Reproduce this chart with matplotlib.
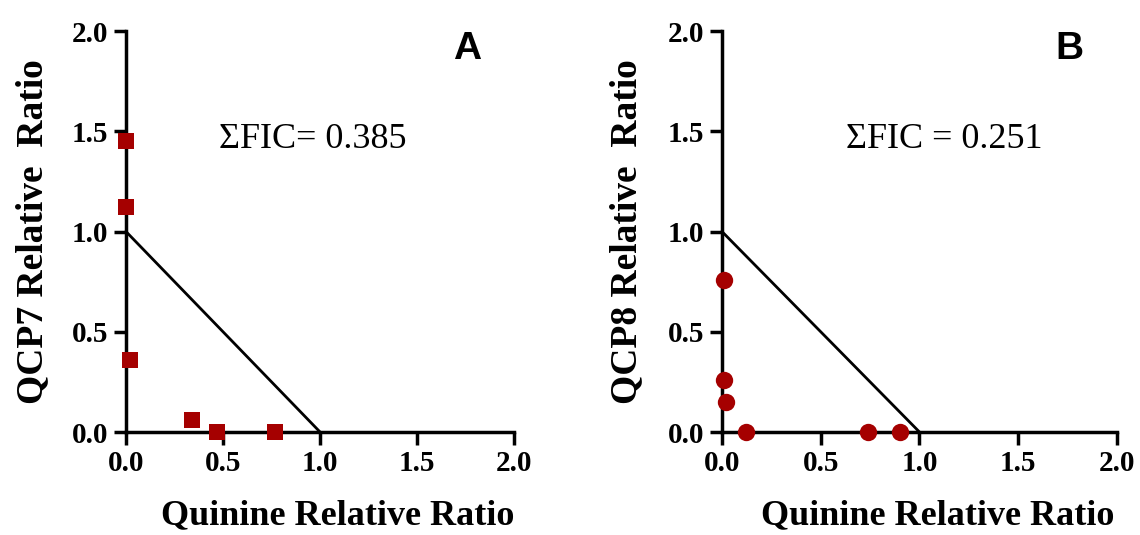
import matplotlib
matplotlib.use('Agg')
import matplotlib.pyplot as plt

# Panel A: QCP7 + quinine
a_x = [0.0, 0.0, 0.02, 0.34, 0.47, 0.77]
a_y = [1.45, 1.12, 0.36, 0.06, 0.0, 0.0]
# Panel B: QCP8 + quinine
b_x = [0.01, 0.01, 0.02, 0.12, 0.74, 0.90]
b_y = [0.76, 0.26, 0.15, 0.0, 0.0, 0.0]

additivity_x = [0.0, 1.0]
additivity_y = [1.0, 0.0]

ticks = [0.0, 0.5, 1.0, 1.5, 2.0]
tick_labels = ['0.0', '0.5', '1.0', '1.5', '2.0']

RED = '#a50000'
SERIF = 'Liberation Serif'

fig = plt.figure(figsize=(11.4, 5.35), dpi=100)
ax_a = fig.add_axes([0.1105, 0.1925, 0.3405, 0.7495])
ax_b = fig.add_axes([0.6333, 0.1925, 0.3465, 0.7495])

panels = [
    (ax_a, a_x, a_y, 's', 11, 'QCP7 Relative  Ratio', '\u03a3FIC= 0.385', 0.48, 'A'),
    (ax_b, b_x, b_y, 'o', 12.5, 'QCP8 Relative  Ratio', '\u03a3FIC = 0.251', 0.562, 'B'),
]

for ax, xs, ys, mk, ms, ylab, fic, fic_x, letter in panels:
    ax.plot(additivity_x, additivity_y, color='black', linewidth=2, clip_on=False)
    ax.plot(xs, ys, linestyle='none', marker=mk, markersize=ms, color=RED,
            markeredgewidth=0, clip_on=False, zorder=5)
    ax.set_xlim(0, 2.0)
    ax.set_ylim(0, 2.0)
    for s in ['top', 'right']:
        ax.spines[s].set_visible(False)
    for s in ['left', 'bottom']:
        ax.spines[s].set_linewidth(2.5)
    ax.set_xticks(ticks)
    ax.set_yticks(ticks)
    ax.set_xticklabels(tick_labels, fontfamily=SERIF, fontweight='bold', fontsize=21)
    ax.set_yticklabels(tick_labels, fontfamily=SERIF, fontweight='bold', fontsize=21)
    ax.tick_params(direction='out', length=9, width=2.5, pad=4)
    ax.set_xlabel('Quinine Relative Ratio', fontfamily=SERIF, fontweight='bold', fontsize=26)
    ax.xaxis.set_label_coords(0.546, -0.168)
    ax.set_ylabel(ylab, fontfamily=SERIF, fontweight='bold', fontsize=27)
    ax.yaxis.set_label_coords(-0.196, 0.5)
    ax.text(fic_x, 0.73, fic, transform=ax.transAxes, fontfamily=SERIF,
            fontsize=26, ha='center', va='center')
    ax.text(0.88, 0.955, letter, transform=ax.transAxes, fontfamily='Liberation Sans',
            fontweight='bold', fontsize=28, ha='center', va='center')

fig.savefig('out.png', dpi=100)
